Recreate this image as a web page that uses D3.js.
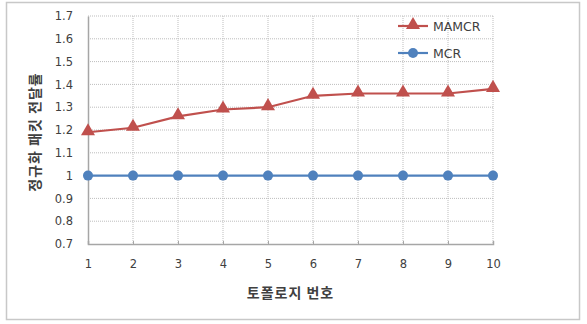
<!DOCTYPE html>
<html>
<head>
<meta charset="utf-8">
<script src="https://cdn.jsdelivr.net/npm/d3@7"></script>
<style>
  body { margin: 0; background: #fff; }
  svg { font-family: "Noto Sans CJK KR", "Noto Sans", sans-serif; }
</style>
</head>
<body>
<div id="chart"></div>
<script>
const topologies = [1, 2, 3, 4, 5, 6, 7, 8, 9, 10];
const mamcr = [1.19, 1.21, 1.26, 1.29, 1.30, 1.35, 1.36, 1.36, 1.36, 1.38];
const mcr = [1, 1, 1, 1, 1, 1, 1, 1, 1, 1];
const yTicks = [0.7, 0.8, 0.9, 1, 1.1, 1.2, 1.3, 1.4, 1.5, 1.6, 1.7];

const W = 587, H = 324;
const margin = { top: 16, right: 94, bottom: 80, left: 88 };
const width = W - margin.left - margin.right;
const height = H - margin.top - margin.bottom;
const latin = "\"DejaVu Sans\", Verdana, sans-serif";
const textColor = "#404040";

const svg = d3.select("#chart").append("svg")
    .attr("width", W).attr("height", H);

// outer frame
svg.append("rect")
    .attr("x", 6.5).attr("y", 2.5)
    .attr("width", 573).attr("height", 317)
    .attr("fill", "#fff").attr("stroke", "#c8c8c8").attr("stroke-width", 1.5);

const g = svg.append("g").attr("transform", "translate(" + margin.left + "," + margin.top + ")");

const x = d3.scaleLinear().domain([1, 10]).range([0, width]);
const y = d3.scaleLinear().domain([0.7, 1.7]).range([height, 0]);

// gridlines
g.append("g").selectAll("line").data(yTicks.slice(1)).join("line")
    .attr("x1", 0).attr("x2", width)
    .attr("y1", d => y(d)).attr("y2", d => y(d))
    .attr("stroke", "#bdbdbd").attr("stroke-dasharray", "1,1");
g.append("g").selectAll("line").data(topologies.slice(1)).join("line")
    .attr("x1", d => x(d)).attr("x2", d => x(d))
    .attr("y1", 0).attr("y2", height)
    .attr("stroke", "#bdbdbd").attr("stroke-dasharray", "1,1");

// axes
const xAxis = g.append("g")
    .attr("transform", "translate(0," + height + ")")
    .call(d3.axisBottom(x).tickValues(topologies).tickSize(-3).tickPadding(16).tickFormat(d3.format("d")));
const yAxis = g.append("g")
    .call(d3.axisLeft(y).tickValues(yTicks).tickSize(0).tickPadding(15).tickFormat(d => d === 1 ? "1" : d3.format(".1f")(d)));
[xAxis, yAxis].forEach(a => {
    a.attr("font-family", null).attr("font-size", null);
    a.select(".domain").attr("stroke", "#a6a6a6").attr("stroke-width", 1.5);
    a.selectAll(".tick line").attr("stroke", "#a6a6a6");
    a.selectAll("text").style("font-size", "11.5px").style("fill", textColor)
        .style("font-family", latin);
});

const line = d3.line().x((d, i) => x(topologies[i])).y(d => y(d));

// MCR
g.append("path").datum(mcr)
    .attr("d", line).attr("fill", "none").attr("stroke", "#4f81bd").attr("stroke-width", 2.2);
g.append("g").selectAll("circle").data(mcr).join("circle")
    .attr("cx", (d, i) => x(topologies[i])).attr("cy", d => y(d))
    .attr("r", 5).attr("fill", "#4f81bd");

// MAMCR
const tri = d3.symbol().type(d3.symbolTriangle).size(85);
g.append("path").datum(mamcr)
    .attr("d", line).attr("fill", "none").attr("stroke", "#c0504d").attr("stroke-width", 2.2);
g.append("g").selectAll("path").data(mamcr).join("path")
    .attr("d", tri)
    .attr("transform", (d, i) => "translate(" + x(topologies[i]) + "," + (y(d) - 1) + ")")
    .attr("fill", "#c0504d");

// legend
const legend = [
    { name: "MAMCR", color: "#c0504d", shape: "tri" },
    { name: "MCR", color: "#4f81bd", shape: "circle" }
];
const lg = svg.append("g").attr("transform", "translate(398,26)");
legend.forEach((d, i) => {
    const row = lg.append("g").attr("transform", "translate(0," + i * 27 + ")");
    row.append("line").attr("x1", 0).attr("x2", 30).attr("stroke", d.color).attr("stroke-width", 2.2);
    if (d.shape === "tri") {
        row.append("path").attr("d", tri).attr("transform", "translate(15,-1)").attr("fill", d.color);
    } else {
        row.append("circle").attr("cx", 15).attr("r", 5).attr("fill", d.color);
    }
    row.append("text").attr("x", 35).attr("y", 4.5)
        .style("font-size", "12.5px").style("font-family", latin).style("fill", textColor)
        .text(d.name);
});

// axis titles
svg.append("text")
    .attr("x", margin.left + width / 2).attr("y", 298)
    .attr("text-anchor", "middle").attr("font-size", 14).attr("font-weight", "bold")
    .attr("letter-spacing", 1).attr("fill", textColor)
    .text("토폴로지 번호");
svg.append("text")
    .attr("transform", "translate(35," + 132 + ") rotate(-90)")
    .attr("text-anchor", "middle").attr("font-size", 14).attr("font-weight", "bold")
    .attr("letter-spacing", 1).attr("fill", textColor)
    .attr("dy", "0.35em")
    .text("정규화 패킷 전달률");
</script>
</body>
</html>
